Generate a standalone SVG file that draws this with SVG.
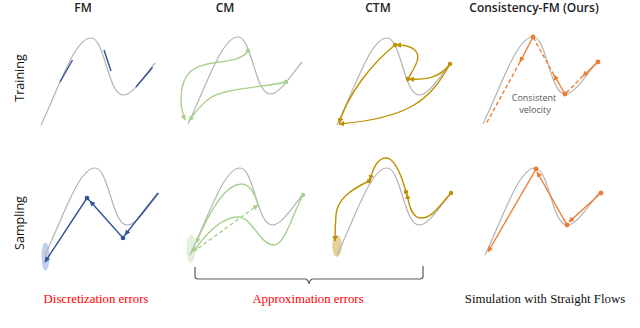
<svg xmlns="http://www.w3.org/2000/svg" xmlns:xlink="http://www.w3.org/1999/xlink" width="640" height="328" viewBox="0 0 640 328">
<style>
.hdr{font-family:"Open Sans","Liberation Sans",sans-serif;font-size:12px;font-weight:600;fill:#222;text-anchor:middle}
.row{font-family:"Open Sans","Liberation Sans",sans-serif;font-size:12.5px;font-weight:500;fill:#111;text-anchor:middle}
.lbl{font-family:"Liberation Serif","Times New Roman",serif;font-size:12.8px;text-anchor:middle}
.note{font-family:"Open Sans","Liberation Sans",sans-serif;font-size:9px;fill:#595959;text-anchor:middle}
.gray{fill:none;stroke:#b3b3b3;stroke-width:1.2}
.blue{fill:none;stroke:#2f5597;stroke-width:1.4}
.green{fill:none;stroke:#a9d18e;stroke-width:1.4}
.gold{fill:none;stroke:#bf9000;stroke-width:1.4}
.orange{fill:none;stroke:#ed7d31;stroke-width:1.4}
.dash{stroke-dasharray:4 2.5}
</style>
<defs>
<path id="curve" d="M-50,87 C-31,47 -16,0 0,0 C14,0 17,57 32,57 C42,57 54,37 64,25"/>
<marker id="aB" viewBox="0 0 6 6" refX="5.5" refY="3" markerWidth="5.5" markerHeight="5.5" markerUnits="userSpaceOnUse" orient="auto"><path d="M0,0 L6,3 L0,6 z" fill="#2f5597"/></marker>
<marker id="aG" viewBox="0 0 6 6" refX="5.5" refY="3" markerWidth="5.5" markerHeight="5.5" markerUnits="userSpaceOnUse" orient="auto"><path d="M0,0 L6,3 L0,6 z" fill="#a9d18e"/></marker>
<marker id="aY" viewBox="0 0 6 6" refX="5.5" refY="3" markerWidth="5.5" markerHeight="5.5" markerUnits="userSpaceOnUse" orient="auto"><path d="M0,0 L6,3 L0,6 z" fill="#bf9000"/></marker>
<marker id="aO" viewBox="0 0 6 6" refX="5.5" refY="3" markerWidth="5.5" markerHeight="5.5" markerUnits="userSpaceOnUse" orient="auto"><path d="M0,0 L6,3 L0,6 z" fill="#ed7d31"/></marker>
</defs>
<rect width="640" height="328" fill="#fff"/>

<g id="headers">
<text class="hdr" x="83" y="12">FM</text>
<text class="hdr" x="225" y="12">CM</text>
<text class="hdr" x="378" y="12">CTM</text>
<text class="hdr" x="534" y="12">Consistency-FM (Ours)</text>
<text class="row" transform="translate(24,78) rotate(-90)">Training</text>
<text class="row" transform="translate(24,223) rotate(-90)">Sampling</text>
</g>

<g id="fm-training">
<use href="#curve" class="gray" transform="translate(91,38)"/>
<path class="blue" d="M60,82 L72.5,60 M104,50 L111,71 M136,87 L152.5,67.5"/>
</g>

<g id="cm-training">
<use href="#curve" class="gray" transform="translate(238,37)"/>
<path class="green" marker-end="url(#aG)" d="M248,51 C238,66 205,58 190,72 C178,84 180,108 185,120"/>
<path class="green" marker-end="url(#aG)" d="M286,82 C260,88 225,88 210,98 C200,105 195,113 189,121"/>
<circle cx="248" cy="51" r="2.2" fill="#a9d18e"/>
<circle cx="286" cy="82" r="2.2" fill="#a9d18e"/>
</g>

<g id="ctm-training">
<use href="#curve" class="gray" transform="translate(387,38)"/>
<path class="gold" marker-end="url(#aY)" d="M450,64 C440,78 425,80 409,79"/>
<path class="gold" marker-end="url(#aY)" d="M408,79 C414,68 420,60 417,53 C414,47 405,45 396,45"/>
<path class="gold" marker-end="url(#aY)" d="M395,45 C370,65 348,95 339,123"/>
<path class="gold" marker-end="url(#aY)" d="M450,64 C430,100 410,118 339,124"/>
<circle cx="395" cy="45" r="2.2" fill="#bf9000"/>
<circle cx="408" cy="79" r="2.2" fill="#bf9000"/>
<circle cx="450" cy="64" r="2.2" fill="#bf9000"/>
</g>

<g id="cfm-training">
<use href="#curve" class="gray" transform="translate(533,37)"/>
<path class="orange" marker-end="url(#aO)" d="M533,37 L520,62"/>
<path class="orange dash" d="M520,62 L486,124"/>
<path class="orange" marker-end="url(#aO)" d="M565,94 L554,75"/>
<path class="orange dash" d="M554,75 L533,37"/>
<path class="orange" marker-end="url(#aO)" d="M598,62 L583,76"/>
<path class="orange dash" d="M583,76 L565,94"/>
<circle cx="533" cy="37" r="2.4" fill="#ed7d31"/>
<circle cx="565" cy="94" r="2.4" fill="#ed7d31"/>
<circle cx="598" cy="62" r="2.4" fill="#ed7d31"/>
<text class="note" x="534" y="101">Consistent</text>
<text class="note" x="535" y="113">velocity</text>
</g>

<g id="fm-sampling">
<ellipse cx="45.5" cy="256.5" rx="4" ry="14" fill="#b4c7e7" opacity="0.85"/>
<use href="#curve" class="gray" transform="translate(95,168)"/>
<path class="blue" marker-end="url(#aB)" d="M158,193 L125,235"/>
<path class="blue" d="M125,235 L123,238"/>
<path class="blue" marker-end="url(#aB)" d="M123,238 L90,201"/>
<path class="blue" d="M90,201 L87,198"/>
<path class="blue" marker-end="url(#aB)" d="M87,198 L45,262"/>
<circle cx="123" cy="238" r="2.3" fill="#2f5597"/>
<circle cx="87" cy="198" r="2.3" fill="#2f5597"/>
</g>

<g id="cm-sampling">
<ellipse cx="191" cy="249" rx="4.5" ry="14" fill="#e2f0d9"/>
<use href="#curve" class="gray" transform="translate(240,168)"/>
<path class="green" marker-end="url(#aG)" d="M303,195 C292,215 285,245 274,245 C260,245 252,217 238,217 C222,217 205,235 193,252"/>
<path class="green" marker-end="url(#aG)" d="M258,205 C254,190 248,184 241,184 C225,184 208,215 196,243"/>
<path class="green dash" marker-end="url(#aG)" d="M193,252 L258,205"/>
<circle cx="303" cy="195" r="2.2" fill="#a9d18e"/>
</g>

<g id="ctm-sampling">
<ellipse cx="337" cy="246" rx="4.8" ry="11" fill="#dcc37a" opacity="0.75"/>
<use href="#curve" class="gray" transform="translate(387,168)"/>
<path class="gold" marker-end="url(#aY)" d="M451,193 C440,205 432,219 420,218 C412,217 409,206 407,194"/>
<path class="gold" marker-end="url(#aY)" d="M406,192 C400,170 393,158 386,158 C378,158 373,168 370,180"/>
<path class="gold" marker-end="url(#aY)" d="M369,181 C350,190 337,200 336,215 C335,228 335,235 335,241"/>
<circle cx="451" cy="193" r="2.2" fill="#bf9000"/>
<circle cx="406" cy="192" r="2.2" fill="#bf9000"/>
<circle cx="369" cy="181" r="2.2" fill="#bf9000"/>
</g>

<g id="cfm-sampling">
<use href="#curve" class="gray" transform="translate(535,168)"/>
<path class="orange" marker-end="url(#aO)" d="M601,193 L569,222"/>
<path class="orange" marker-end="url(#aO)" d="M567,225 L537,172"/>
<path class="orange" marker-end="url(#aO)" d="M536,169 L488,252"/>
<circle cx="601" cy="193" r="2.4" fill="#ed7d31"/>
<circle cx="567" cy="225" r="2.4" fill="#ed7d31"/>
<circle cx="536" cy="169" r="2.4" fill="#ed7d31"/>
</g>

<g id="connectors">
<path d="M195,267 L195,276 Q195,279 198,279 L305,279 Q308,279 309,284 Q310,279 313,279 L420,279 Q423,279 423,276 L423,266" fill="none" stroke="#595959" stroke-width="1.2"/>
</g>

<g id="labels">
<text class="lbl" x="96" y="303" fill="#ff0000">Discretization errors</text>
<text class="lbl" x="308" y="303" fill="#ff0000">Approximation errors</text>
<text class="lbl" x="545" y="303" fill="#111">Simulation with Straight Flows</text>
</g>
</svg>
